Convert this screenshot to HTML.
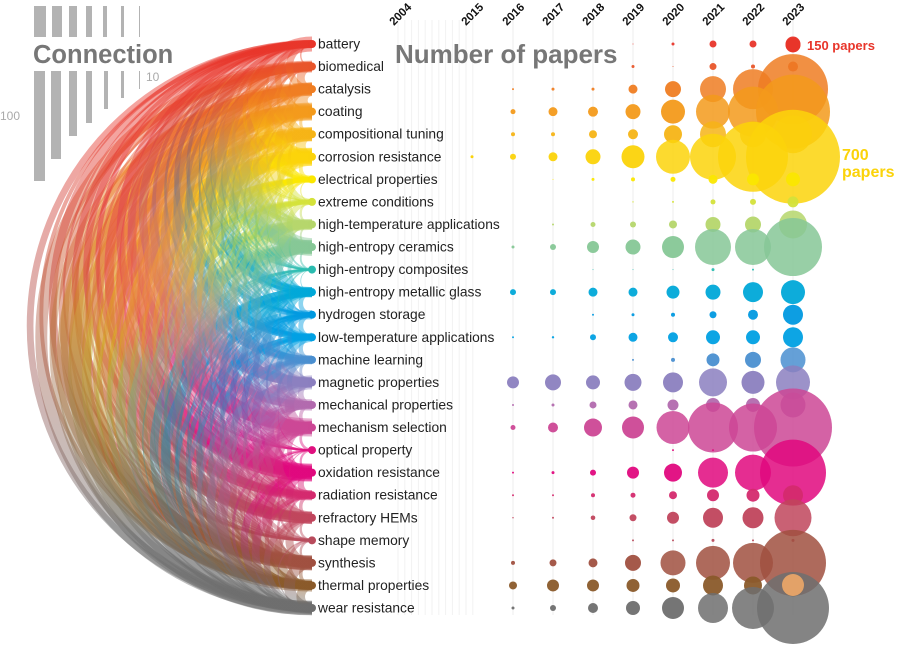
<!DOCTYPE html>
<html><head><meta charset="utf-8"><style>
html,body{margin:0;padding:0;background:#fff;}
svg{display:block;font-family:"Liberation Sans",sans-serif;}
</style></head><body>
<svg id="s" width="900" height="645" viewBox="0 0 900 645" xmlns="http://www.w3.org/2000/svg">
<defs id="defs"></defs>
<g id="legend" fill="#b3b3b3">
<rect x="34" y="6" width="12" height="31"/><rect x="52" y="6" width="10" height="31"/><rect x="69" y="6" width="8" height="31"/>
<rect x="86" y="6" width="6" height="31"/><rect x="103" y="6" width="4" height="31"/><rect x="121" y="6" width="3" height="31"/><rect x="139" y="6" width="1" height="31"/>
<rect x="34" y="71" width="11" height="110"/><rect x="51" y="71" width="10" height="88"/><rect x="69" y="71" width="8" height="65"/>
<rect x="86" y="71" width="6" height="52"/><rect x="104" y="71" width="4" height="38"/><rect x="121" y="71" width="3" height="27"/><rect x="139" y="71" width="1" height="18"/>
</g>
<g id="grid"></g>
<g id="arcs"></g>
<text x="33" y="63" font-size="25.5" font-weight="bold" fill="#777">Connection</text>
<text x="146" y="81" font-size="12" fill="#aaa">10</text>
<text x="0" y="120" font-size="12" fill="#aaa">100</text>
<g id="bub"></g>
<text x="395" y="63" font-size="26" font-weight="bold" fill="#777">Number of papers</text>
<g id="nodes"></g>
<g id="yrs" font-size="11.5" font-weight="bold" fill="#111"></g>
<circle cx="793" cy="45" r="7.5" fill="#e8352a"/>
<text x="807" y="50" font-size="13" font-weight="bold" fill="#e8352a">150 papers</text>
<text x="842" y="160" font-size="16" font-weight="bold" fill="#fbd30a">700</text>
<text x="842" y="177" font-size="16" font-weight="bold" fill="#fbd30a">papers</text>
</svg>
<script>
var names=["battery","biomedical","catalysis","coating","compositional tuning","corrosion resistance","electrical properties","extreme conditions","high-temperature applications","high-entropy ceramics","high-entropy composites","high-entropy metallic glass","hydrogen storage","low-temperature applications","machine learning","magnetic properties","mechanical properties","mechanism selection","optical property","oxidation resistance","radiation resistance","refractory HEMs","shape memory","synthesis","thermal properties","wear resistance"];
var cols=["#e8352a","#e8552a","#ef7d22","#f39a1b","#f6b416","#fbd30a","#fbe700","#d4e23a","#b5d66b","#86c796","#2bbcb0","#00a8d8","#0099e0","#00a0e3","#4a8fd0","#8b7fbf","#b26aae","#cc4795","#e0107f","#e0087e","#d42a6e","#c0455c","#b84b5c","#a05040","#8a5a2a","#6e6e6e"];
var R=[[0,0,0,0.5,1.5,3.5,3.5,7.5],[0,0,0,1.5,0.5,3.5,2,5],[1,1.5,1.5,4.5,8,13,20,35],[2.5,4.5,5,7.5,12,17,25,37],[2,2,4,5,9,13,13,19],[3,4.5,7.5,11.5,17,23,35,47],[0,0.5,1.5,2,2.5,4.5,6,7],[0,0,0,0.7,1,2.5,3,5.5],[0,1,2.5,3,4,7.5,8,14],[1.5,3,6,7.5,11,18,18,29],[0,0,0.5,0.5,0.5,1.5,1,0],[3,3,4.5,4.5,6.5,7.5,10,12],[0,0,1,1.5,2,3.5,5,10],[1,1.2,3,4.5,5,7,7,10],[0,0,0,1,2,6.5,8,12.5],[6,8,7,8.5,10,14,11.5,17],[1,1.5,3.5,4.5,5.5,7,7,12.5],[2.5,5,9,11,16.5,25,24,39],[0,0,0,0,1,1,0,0],[1,1.5,3,6,9,15,18,33],[1,1,2,2.5,4,6,6.5,10],[0.7,1,2.3,3.5,6,10,10.5,18.5],[0,0,0,1,1,1.5,1,1.5],[2,3.5,4.5,8,12.5,17,20,33],[4,6,6,6.5,7,10,9,11],[1.5,3,5,7,11,15,21,36]];
var NS="http://www.w3.org/2000/svg";
function el(t,a,p){var e=document.createElementNS(NS,t);for(var k in a)e.setAttribute(k,a[k]);if(p)p.appendChild(e);return e;}
var Y=function(i){return 44+i*22.56;};
var X0=312, xs=[513,553,593,633,673,713,753,793];
var grid=document.getElementById("grid");
for(var g=0;g<12;g++)el("line",{x1:398+g*6.8,y1:20,x2:398+g*6.8,y2:615,stroke:"#f2f2f2","stroke-width":1},grid);
xs.forEach(function(x){el("line",{x1:x,y1:20,x2:x,y2:615,stroke:"#eee","stroke-width":1},grid);});
var yrs=document.getElementById("yrs");
var yl=[["2004",402],["2015",474]];for(var k=0;k<8;k++)yl.push([""+(2016+k),xs[k]+2]);
yl.forEach(function(a){var t=el("text",{transform:"translate("+(a[1]-8)+",26) rotate(-45)"},yrs);t.textContent=a[0];});
var tot=R.map(function(r){return r.reduce(function(a,b){return a+b;},0);});
tot[0]=tot[0]*4;tot[1]=tot[1]*3;tot[25]*=1.3;
var seed=11;function rnd(){seed=(seed*16807)%2147483647;return seed/2147483647;}
var arcsL=[];
for(var i=0;i<26;i++)for(var j=i+1;j<26;j++){
 var w=Math.sqrt(tot[i]*tot[j])/7*(0.2+rnd());
 if(w<0.6)continue;
 arcsL.push([i,j,Math.min(w,18)]);
}
arcsL.sort(function(a,b){return (b[1]-b[0])-(a[1]-a[0]);});
var ag=document.getElementById("arcs"),defs=document.getElementById("defs");
arcsL.forEach(function(a,n){
 var y1=Y(a[0]),y2=Y(a[1]),r=(y2-y1)/2;
 var gr=el("linearGradient",{id:"g"+n,gradientUnits:"userSpaceOnUse",x1:0,y1:y1,x2:0,y2:y2},defs);
 el("stop",{offset:"0.15","stop-color":cols[a[0]]},gr);
 el("stop",{offset:"0.85","stop-color":cols[a[1]]},gr);
 el("path",{d:"M"+X0+","+y1+" A"+r+","+r+" 0 0 0 "+X0+","+y2,fill:"none",stroke:"url(#g"+n+")","stroke-width":a[2].toFixed(2),"stroke-opacity":0.45},ag);
});
var bg=document.getElementById("bub");
for(var i=0;i<26;i++){
 if(i==5)el("circle",{cx:472,cy:Y(i),r:1.5,fill:cols[i]},bg);
 for(var k=0;k<8;k++){var r=R[i][k];if(r>0)el("circle",{cx:xs[k],cy:Y(i),r:r,fill:cols[i],"fill-opacity":r>12?0.85:0.95},bg);}
}
el("circle",{cx:793,cy:585,r:11,fill:"#f0a868","fill-opacity":0.9},bg);
var ng=document.getElementById("nodes");
for(var i=0;i<26;i++){
 el("circle",{cx:X0,cy:Y(i),r:4,fill:cols[i]},ng);
 var t=el("text",{x:318,y:Y(i)+4.5,"font-size":"13.8",fill:"#222"},ng);t.textContent=names[i];
}
</script>
</body></html>
